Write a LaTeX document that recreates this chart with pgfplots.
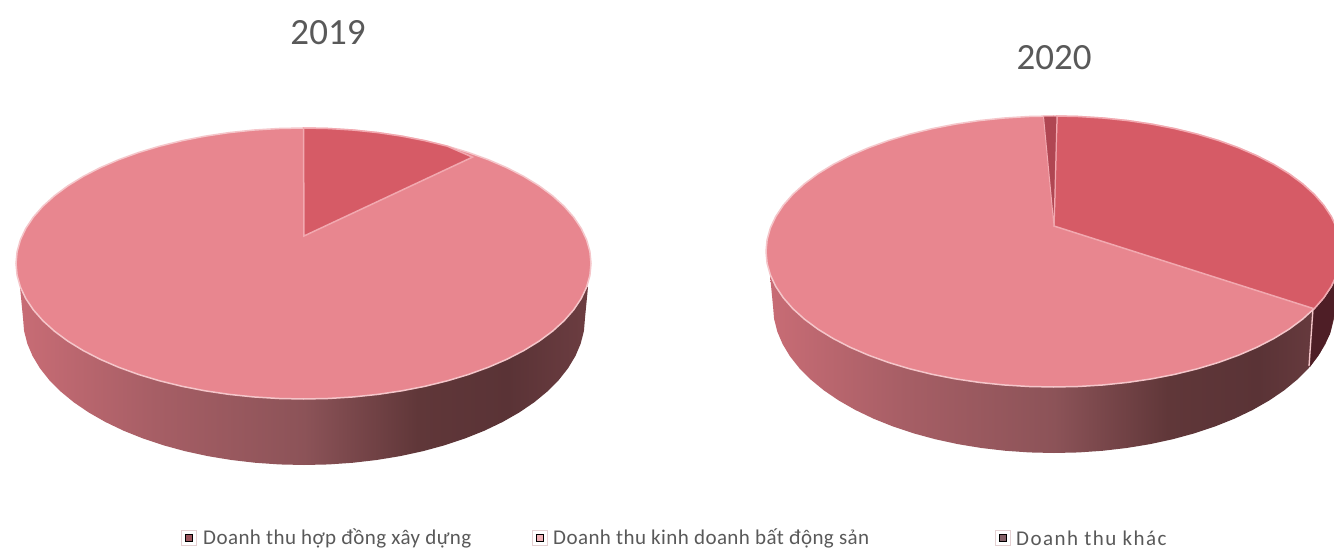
\documentclass[border=0pt]{standalone}
\usepackage{pgfplots}
\usepackage{pgfplotstable}
\usepackage{fontspec}
\setmainfont{Carlito}
\newfontfamily\legendfont[LetterSpace=2]{Carlito}
\newfontfamily\legendwide[LetterSpace=7]{Carlito}
\pgfplotsset{compat=1.18}

\definecolor{facePink}{HTML}{E8868F}
\definecolor{faceRed}{HTML}{D65B66}
\definecolor{faceDark}{HTML}{A9424E}
\definecolor{rimLight}{HTML}{F5C6CA}
\definecolor{seam}{HTML}{F2A9B0}
\definecolor{sideDark}{HTML}{4E1E26}
\definecolor{labelGray}{HTML}{595959}
\definecolor{sA}{HTML}{C86C75}
\definecolor{sB}{HTML}{A65E65}
\definecolor{sC}{HTML}{8C5358}
\definecolor{sD}{HTML}{603739}
\definecolor{sE}{HTML}{5A3336}
\definecolor{sF}{HTML}{6C3D41}

% left-to-right tone of the rim; 25bp and 75bp are the edges of the filled path
\pgfdeclarehorizontalshading{rim}{100bp}{
  color(0bp)=(sA); color(25bp)=(sA); color(37bp)=(sB); color(50bp)=(sC);
  color(60bp)=(sD); color(68bp)=(sE); color(75bp)=(sF); color(100bp)=(sF)}

% outline of the top face, clockwise from twelve o'clock (unit ellipse)
\pgfplotstableread{
u v
0 1
.0872 .9962
.1736 .9848
.2588 .9659
.3420 .9397
.4226 .9063
.5 .8660
.5736 .8192
.6428 .7660
.7071 .7071
.7660 .6428
.8192 .5736
.8660 .5
.9063 .4226
.9397 .3420
.9659 .2588
.9848 .1736
.9962 .0872
1 0
.9962 -.0872
.9848 -.1736
.9659 -.2588
.9397 -.3420
.9063 -.4226
.8660 -.5
.8192 -.5736
.7660 -.6428
.7071 -.7071
.6428 -.7660
.5736 -.8192
.5 -.8660
.4226 -.9063
.3420 -.9397
.2588 -.9659
.1736 -.9848
.0872 -.9962
0 -1
-.0872 -.9962
-.1736 -.9848
-.2588 -.9659
-.3420 -.9397
-.4226 -.9063
-.5 -.8660
-.5736 -.8192
-.6428 -.7660
-.7071 -.7071
-.7660 -.6428
-.8192 -.5736
-.8660 -.5
-.9063 -.4226
-.9397 -.3420
-.9659 -.2588
-.9848 -.1736
-.9962 -.0872
-1 0
-.9962 .0872
-.9848 .1736
-.9659 .2588
-.9397 .3420
-.9063 .4226
-.8660 .5
-.8192 .5736
-.7660 .6428
-.7071 .7071
-.6428 .7660
-.5736 .8192
-.5 .8660
-.4226 .9063
-.3420 .9397
-.2588 .9659
-.1736 .9848
-.0872 .9962
0 1
}\faceoutline

% lower rim of the disc, from the right around the front to the left
\pgfplotstableread{
u v
1.0107 .2109
1 0
.9962 -.0872
.9848 -.1736
.9659 -.2588
.9397 -.3420
.9063 -.4226
.8660 -.5
.8192 -.5736
.7660 -.6428
.7071 -.7071
.6428 -.7660
.5736 -.8192
.5 -.8660
.4226 -.9063
.3420 -.9397
.2588 -.9659
.1736 -.9848
.0872 -.9962
0 -1
-.0872 -.9962
-.1736 -.9848
-.2588 -.9659
-.3420 -.9397
-.4226 -.9063
-.5 -.8660
-.5736 -.8192
-.6428 -.7660
-.7071 -.7071
-.7660 -.6428
-.8192 -.5736
-.8660 -.5
-.9063 -.4226
-.9397 -.3420
-.9659 -.2588
-.9848 -.1736
-.9962 -.0872
-1 0
-1.0107 .2109
}\rimoutline

% 2019: construction revenue
\pgfplotstableread{
u v
.0017 .2030
0 1
.0872 .9962
.1736 .9848
.2588 .9659
.3420 .9397
.4226 .9063
.5 .8660
.5878 .7850
}\sliceAnineteen

% 2020: construction revenue
\pgfplotstableread{
u v
.0017 .1880
.0120 .9999
.0872 .9962
.1736 .9848
.2588 .9659
.3420 .9397
.4226 .9063
.5 .8660
.5736 .8192
.6428 .7660
.7071 .7071
.7660 .6428
.8192 .5736
.8660 .5
.9063 .4226
.9397 .3420
.9659 .2588
.9848 .1736
.9962 .0872
1 0
.9962 -.0872
.9848 -.1736
.9659 -.2588
.9397 -.3420
.9063 -.4226
}\sliceAtwenty

% 2020: other revenue, the thin wedge at the top
\pgfplotstableread{
u v
.0017 .1880
-.0350 .9994
0 1
.0120 .9999
}\sliceCtwenty

% 2020: rim of the construction wedge, right of the seam (pixel positions)
\pgfplotstableread{
x y
1314 308
1334 280
1336 285
1336 306
1330 334
1320 353
1310 367
}\rimdark

\newcommand{\topface}[3]{% options, centre x, centre y
  \addplot[#1] table[x expr={\thisrow{u}*287.5+#2}, y expr={#3-\thisrow{v}*135.5}] {\faceoutline} -- cycle;}
\newcommand{\pieslice}[4]{% options, table, centre x, centre y
  \addplot[#1] table[x expr={\thisrow{u}*287.5+#3}, y expr={#4-\thisrow{v}*135.5}] {#2} -- cycle;}
\newcommand{\rimband}[2]{% centre x, centre y
  \addplot[shading=rim, draw=none] table[x expr={\thisrow{u}*281+#1}, y expr={#2-\thisrow{v}*147}] {\rimoutline} -- cycle;}

\begin{document}
\begin{tikzpicture}
\begin{axis}[
  width=1334pt, height=548pt, scale only axis,
  xmin=0, xmax=1334, ymin=0, ymax=548, y dir=reverse,
  hide axis,
]
\addplot[fill=white, draw=none] coordinates {(0,0) (1334,0) (1334,548) (0,548)} -- cycle;

% 2019
\rimband{304}{318}
\topface{fill=facePink, draw=rimLight, line width=1.5pt}{303.5}{263.5}
\pieslice{fill=faceRed, draw=seam, line width=1.5pt}{\sliceAnineteen}{303.5}{263.5}

% 2020
\rimband{1054}{306}
\addplot[fill=sideDark, draw=none] table[x=x, y=y] {\rimdark} -- cycle;
\addplot[draw=rimLight, line width=1.3pt] coordinates {(1313,308) (1309,366)};
\topface{fill=facePink, draw=rimLight, line width=1.5pt}{1053.5}{251.5}
\pieslice{fill=faceRed, draw=seam, line width=1.5pt}{\sliceAtwenty}{1053.5}{251.5}
\pieslice{fill=faceDark!85!faceRed, draw=seam, line width=1pt}{\sliceCtwenty}{1053.5}{251.5}

% legend swatches
\addplot[only marks, mark=square*, mark size=7.5pt, mark options={fill=white, draw=rimLight!70!gray!60!white, line width=1pt}]
  coordinates {(189,538) (540,538) (1003,538)};
\addplot[only marks, mark=square*, mark size=3.6pt, mark options={fill=faceDark!70!gray, draw=none}]
  coordinates {(189,538)};
\addplot[only marks, mark=square*, mark size=3.6pt, mark options={fill=facePink!65!white, draw=none}]
  coordinates {(540,538)};
\addplot[only marks, mark=square*, mark size=3.6pt, mark options={fill=sideDark!70!white, draw=none}]
  coordinates {(1003,538)};

\node[text=labelGray, font=\fontsize{37}{40}\selectfont] at (axis cs:328,33) {2019};
\node[text=labelGray, font=\fontsize{37}{40}\selectfont] at (axis cs:1054,58) {2020};
\node[anchor=west, inner sep=0pt, text=labelGray, font=\legendfont\fontsize{21}{23}\selectfont] at (axis cs:203,538.5) {Doanh thu hợp đồng xây dựng};
\node[anchor=west, inner sep=0pt, text=labelGray, font=\legendfont\fontsize{21}{23}\selectfont] at (axis cs:553,538.5) {Doanh thu kinh doanh bất động sản};
\node[anchor=west, inner sep=0pt, text=labelGray, font=\legendwide\fontsize{21}{23}\selectfont] at (axis cs:1016,538.5) {Doanh thu khác};
\end{axis}
\end{tikzpicture}
\end{document}
